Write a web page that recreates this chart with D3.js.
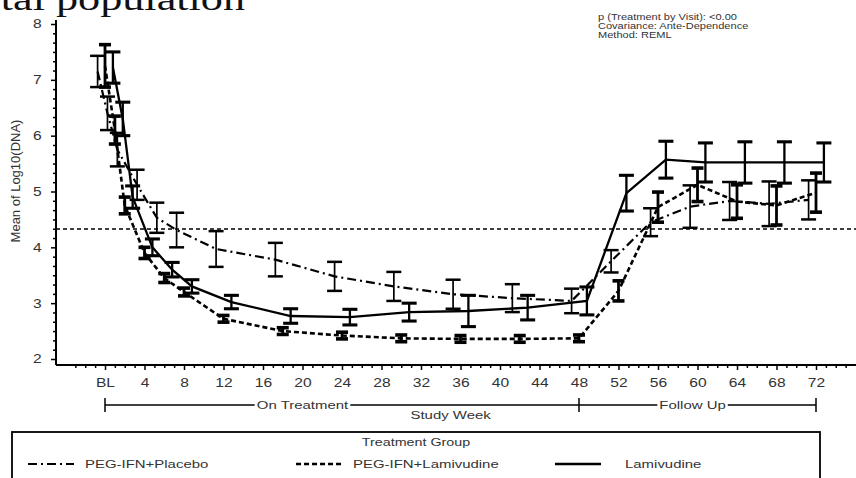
<!DOCTYPE html>
<html>
<head>
<meta charset="utf-8">
<script src="https://cdn.jsdelivr.net/npm/d3@7"></script>
<style>
  html, body { margin: 0; padding: 0; background: #fff; }
  svg { display: block; }
  text { font-family: "Liberation Sans", Arial, sans-serif; fill: #333; }
</style>
</head>
<body>
<svg id="chart" width="856" height="478"></svg>
<script>
// Visit weeks (BL = 0) shared by all treatment groups
var weeks = [0, 1, 2, 4, 6, 8, 12, 18, 24, 30, 36, 42, 48, 52, 56, 60, 64, 68, 72];

// PEG-IFN+Placebo: mean log10(DNA) and error bar half-width
var placeboMean = [7.15, 6.40, 5.75, 5.12, 4.53, 4.31, 3.97, 3.78, 3.48, 3.30, 3.16, 3.09, 3.04, 3.75, 4.45, 4.73, 4.83, 4.78, 4.85];
var placeboErr  = [0.28, 0.30, 0.30, 0.27, 0.27, 0.31, 0.32, 0.30, 0.26, 0.26, 0.26, 0.25, 0.22, 0.20, 0.25, 0.38, 0.34, 0.40, 0.35];

// PEG-IFN+Lamivudine
var pegLamMean = [7.25, 6.10, 4.75, 3.90, 3.45, 3.20, 2.72, 2.50, 2.42, 2.37, 2.36, 2.36, 2.37, 3.22, 4.72, 5.12, 4.82, 4.75, 4.98];
var pegLamErr  = [0.38, 0.25, 0.15, 0.10, 0.08, 0.07, 0.06, 0.06, 0.06, 0.06, 0.06, 0.06, 0.06, 0.18, 0.27, 0.30, 0.30, 0.35, 0.35];

// Lamivudine
var lamMean = [7.22, 6.30, 4.90, 4.00, 3.60, 3.30, 3.02, 2.77, 2.75, 2.84, 2.86, 2.92, 3.04, 4.97, 5.57, 5.52, 5.52, 5.52, 5.52];
var lamErr  = [0.28, 0.30, 0.20, 0.15, 0.13, 0.12, 0.12, 0.13, 0.14, 0.16, 0.28, 0.22, 0.25, 0.32, 0.33, 0.35, 0.37, 0.37, 0.35];

var groupNames = ['PEG-IFN+Placebo', 'PEG-IFN+Lamivudine', 'Lamivudine'];
var xTickWeeks = d3.range(0, 73, 4);
var yTickValues = [2, 3, 4, 5, 6, 7, 8];
var refLevel = 4.33;
var annotation = ['p (Treatment by Visit): <0.00', 'Covariance: Ante-Dependence', 'Method: REML'];

// ---- layout ----
var svg = d3.select('#chart');
var SX = 1.3;              // source figure text is stretched horizontally
var axisLeftX = 56, axisBottomY = 365, axisTopY = 20, axisRightX = 856;

var x = d3.scaleLinear().domain([0, 72]).range([105, 816]);
var y = d3.scaleLinear().domain([2, 8]).range([359, 24]);

function stretched(g, px, py, str, size, anchor) {
    return g.append('text')
        .attr('transform', 'translate(' + px + ',' + py + ') scale(' + SX + ',1)')
        .attr('text-anchor', anchor || 'start')
        .attr('font-size', size)
        .text(str);
}

// Title fragment, cut off at the top-left edge as in the source
stretched(svg, 245, 10, 'Total population', 34, 'end')
    .style('font-family', '"Liberation Serif", "Times New Roman", serif')
    .style('fill', '#111');

// ---- axes ----
var yAxisG = svg.append('g').attr('transform', 'translate(' + axisLeftX + ',0)');
yAxisG.call(d3.axisLeft(y).tickValues(yTickValues).tickSize(5).tickPadding(6).tickFormat(d3.format('d')));
var yMinor = [];
yTickValues.slice(0, -1).forEach(function (v) {
    for (var k = 1; k < 6; k++) yMinor.push(v + k / 6);
});
yAxisG.append('g').call(d3.axisLeft(y).tickValues(yMinor).tickSize(3).tickFormat(''));
yAxisG.selectAll('.domain').remove();
yAxisG.selectAll('line').attr('stroke', '#000').attr('stroke-width', 1.5);
yAxisG.selectAll('text')
    .attr('font-size', 12)
    .attr('transform', 'scale(' + SX + ',1)')
    .style('font-family', '"Liberation Sans", Arial, sans-serif')
    .style('fill', '#333');

var xAxisG = svg.append('g').attr('transform', 'translate(0,' + axisBottomY + ')');
xAxisG.call(d3.axisBottom(x).tickValues(xTickWeeks).tickSize(5).tickPadding(8)
    .tickFormat(function (d) { return d === 0 ? 'BL' : d; }));
var xMinor = d3.range(-4, 77).filter(function (d) { return d % 4 !== 0; });
xAxisG.append('g').call(d3.axisBottom(x).tickValues(xMinor).tickSize(3).tickFormat(''));
xAxisG.selectAll('.domain').remove();
xAxisG.selectAll('line').attr('stroke', '#000').attr('stroke-width', 1.5);
xAxisG.selectAll('text')
    .attr('font-size', 12)
    .attr('transform', 'scale(' + SX + ',1)')
    .style('font-family', '"Liberation Sans", Arial, sans-serif')
    .style('fill', '#333');

svg.append('line')
    .attr('x1', axisLeftX).attr('x2', axisLeftX)
    .attr('y1', axisTopY).attr('y2', axisBottomY)
    .attr('stroke', '#000').attr('stroke-width', 2);
svg.append('line')
    .attr('x1', axisLeftX).attr('x2', axisRightX)
    .attr('y1', axisBottomY).attr('y2', axisBottomY)
    .attr('stroke', '#000').attr('stroke-width', 2);

// y axis title
svg.append('text')
    .attr('transform', 'translate(20,181) rotate(-90)')
    .attr('text-anchor', 'middle')
    .attr('font-size', 13)
    .text('Mean of Log10(DNA)');

// ---- study period bracket ----
var brY = 405;
var br = svg.append('g');
br.append('line').attr('x1', x(0)).attr('x2', x(72)).attr('y1', brY).attr('y2', brY)
    .attr('stroke', '#000').attr('stroke-width', 1.5);
[0, 48, 72].forEach(function (w) {
    br.append('line').attr('x1', x(w)).attr('x2', x(w)).attr('y1', brY - 7).attr('y2', brY + 7)
        .attr('stroke', '#000').attr('stroke-width', 1.5);
});
[['On Treatment', 20], ['Follow Up', 59.5]].forEach(function (p) {
    var t = stretched(br, x(p[1]), brY + 4, p[0], 11.5, 'middle');
    var bb = t.node().getBBox();
    br.insert('rect', function () { return t.node(); })
        .attr('x', x(p[1]) - bb.width * SX / 2 - 2).attr('y', brY - 3)
        .attr('width', bb.width * SX + 4).attr('height', 6)
        .attr('fill', '#fff');
});
stretched(br, x(35), brY + 14, 'Study Week', 11.5, 'middle');

// ---- reference line ----
svg.append('line')
    .attr('x1', axisLeftX).attr('x2', axisRightX)
    .attr('y1', y(refLevel)).attr('y2', y(refLevel))
    .attr('stroke', '#000').attr('stroke-width', 1.5)
    .attr('stroke-dasharray', '4,3');

// ---- series ----
var groups = [
    { name: groupNames[0], mean: placeboMean, err: placeboErr, off: -0.75, dash: '9,4,2,4', lw: 2.2, bw: 1.7, cap: 15 },
    { name: groupNames[1], mean: pegLamMean,  err: pegLamErr,  off: 0,     dash: '5,3',     lw: 2.6, bw: 2.8, cap: 12 },
    { name: groupNames[2], mean: lamMean,     err: lamErr,     off: 0.8,   dash: null,      lw: 2.3, bw: 2.3, cap: 15 }
];

groups.forEach(function (g) {
    var pts = weeks.map(function (w, i) { return { w: w + g.off, m: g.mean[i], e: g.err[i] }; });
    var gg = svg.append('g');

    gg.append('path')
        .datum(pts)
        .attr('fill', 'none')
        .attr('stroke', '#000')
        .attr('stroke-width', g.lw)
        .attr('stroke-dasharray', g.dash)
        .attr('d', d3.line().x(function (d) { return x(d.w); }).y(function (d) { return y(d.m); }));

    var eb = gg.selectAll('g.eb').data(pts).enter().append('g').attr('class', 'eb');
    eb.append('line')
        .attr('x1', function (d) { return x(d.w); }).attr('x2', function (d) { return x(d.w); })
        .attr('y1', function (d) { return y(d.m + d.e); }).attr('y2', function (d) { return y(d.m - d.e); })
        .attr('stroke', '#000').attr('stroke-width', g.bw);
    [1, -1].forEach(function (s) {
        eb.append('line')
            .attr('x1', function (d) { return x(d.w) - g.cap / 2; })
            .attr('x2', function (d) { return x(d.w) + g.cap / 2; })
            .attr('y1', function (d) { return y(d.m + s * d.e); })
            .attr('y2', function (d) { return y(d.m + s * d.e); })
            .attr('stroke', '#000').attr('stroke-width', g.bw + 0.8);
    });
});

// ---- annotation ----
var ann = svg.append('g');
annotation.forEach(function (s, i) {
    stretched(ann, 598, 20 + i * 9, s, 8.5, 'start');
});

// ---- legend ----
var lg = svg.append('g');
lg.append('rect')
    .attr('x', 12).attr('y', 432).attr('width', 808).attr('height', 80)
    .attr('fill', 'none').attr('stroke', '#000').attr('stroke-width', 1.8);
stretched(lg, 416, 446, 'Treatment Group', 11, 'middle');
var legendX = [28, 296, 555];
groups.forEach(function (g, i) {
    lg.append('line')
        .attr('x1', legendX[i]).attr('x2', legendX[i] + 46)
        .attr('y1', 464).attr('y2', 464)
        .attr('stroke', '#000').attr('stroke-width', g.lw)
        .attr('stroke-dasharray', g.dash);
    stretched(lg, legendX[i] + (i === 2 ? 70 : 57), 468, g.name, 11.5, 'start');
});
</script>
</body>
</html>
